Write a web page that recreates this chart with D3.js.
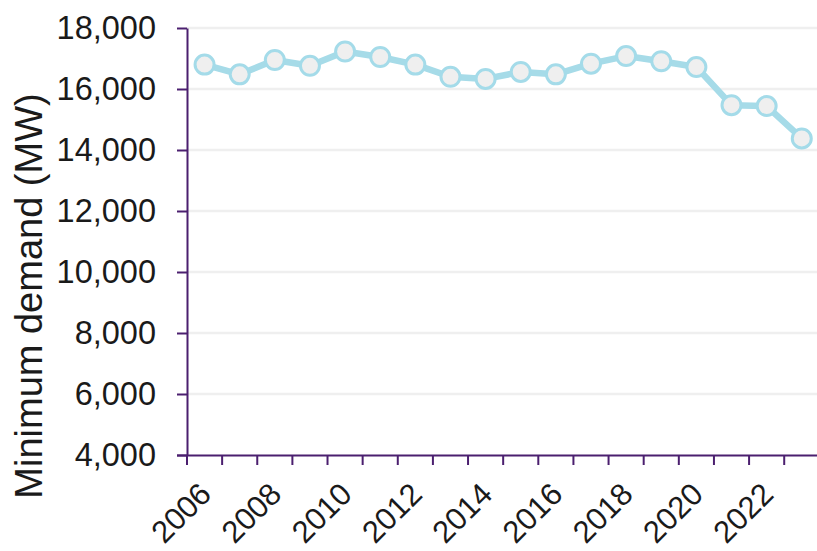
<!DOCTYPE html>
<html>
<head>
<meta charset="utf-8">
<script src="https://cdn.jsdelivr.net/npm/d3@7"></script>
<style>
  body { margin: 0; background: #fff; }
  svg { display: block; font-family: 'Liberation Sans', Arial, sans-serif; }
</style>
</head>
<body>
<svg id="chart" width="817" height="551"></svg>
<script>
const years = [2006, 2007, 2008, 2009, 2010, 2011, 2012, 2013, 2014, 2015, 2016, 2017, 2018, 2019, 2020, 2021, 2022, 2023];
const minDemand = [16800, 16480, 16950, 16760, 17230, 17050, 16800, 16400, 16330, 16560, 16480, 16830, 17080, 16910, 16720, 15470, 15440, 14380];
const yTicks = [4000, 6000, 8000, 10000, 12000, 14000, 16000, 18000];
const yTitle = 'Minimum demand (MW)';

const svg = d3.select('#chart');
const plot = { left: 187, top: 28, bottom: 455, right: 817 };
const axisColor = '#4b1f6f';

const x = d3.scaleBand().domain(years).range([plot.left, plot.left + 18 * 35.13]).padding(0);
const y = d3.scaleLinear().domain([4000, 18000]).range([plot.bottom, plot.top]);

// grid lines
svg.append('g').selectAll('line').data(yTicks.slice(1)).enter().append('line')
  .attr('x1', plot.left).attr('x2', plot.right)
  .attr('y1', d => y(d)).attr('y2', d => y(d))
  .attr('stroke', '#efefef').attr('stroke-width', 2.5);

// y axis
const yAxis = d3.axisLeft(y).tickValues(yTicks).tickFormat(d3.format(','))
  .tickSize(10).tickSizeOuter(0).tickPadding(21);
const gy = svg.append('g').attr('transform', 'translate(' + plot.left + ',0)').call(yAxis);
gy.attr('font-family', null);
gy.selectAll('text').attr('font-size', 32.5).attr('fill', '#1a1a1a');
gy.selectAll('line, path').attr('stroke', axisColor).attr('stroke-width', 2);

// x axis
const xAxis = d3.axisBottom(x).tickSize(10).tickSizeOuter(0)
  .tickFormat(d => d % 2 === 0 ? d : '');
const gx = svg.append('g').attr('transform', 'translate(0,' + plot.bottom + ')').call(xAxis);
gx.attr('font-family', null);
gx.select('.domain').attr('d', 'M' + (plot.left - 10) + ',0.5H' + plot.right);
gx.selectAll('line, path').attr('stroke', axisColor).attr('stroke-width', 2);
gx.selectAll('.tick line').attr('x1', -x.bandwidth() / 2).attr('x2', -x.bandwidth() / 2);
gx.selectAll('text')
  .attr('font-size', 31).attr('fill', '#1a1a1a')
  .attr('transform', 'rotate(-45)')
  .attr('x', -23).attr('y', 35).attr('dy', 0)
  .style('text-anchor', 'end');

// y title
svg.append('text')
  .attr('transform', 'translate(42,296) rotate(-90)')
  .attr('text-anchor', 'middle')
  .attr('font-size', 38).attr('fill', '#1a1a1a')
  .text(yTitle);

// line + points
const pts = years.map((yr, i) => ({ year: yr, v: minDemand[i] }));
const line = d3.line().x(d => x(d.year) + x.bandwidth() / 2).y(d => y(d.v));
svg.append('path').datum(pts)
  .attr('d', line).attr('fill', 'none')
  .attr('stroke', '#a6dbe8').attr('stroke-width', 6.5).attr('stroke-linejoin', 'round');
svg.append('g').selectAll('circle').data(pts).enter().append('circle')
  .attr('cx', d => x(d.year) + x.bandwidth() / 2)
  .attr('cy', d => y(d.v))
  .attr('r', 9.5)
  .attr('fill', '#efefef')
  .attr('stroke', '#a4dbe9').attr('stroke-width', 3);
</script>
</body>
</html>
